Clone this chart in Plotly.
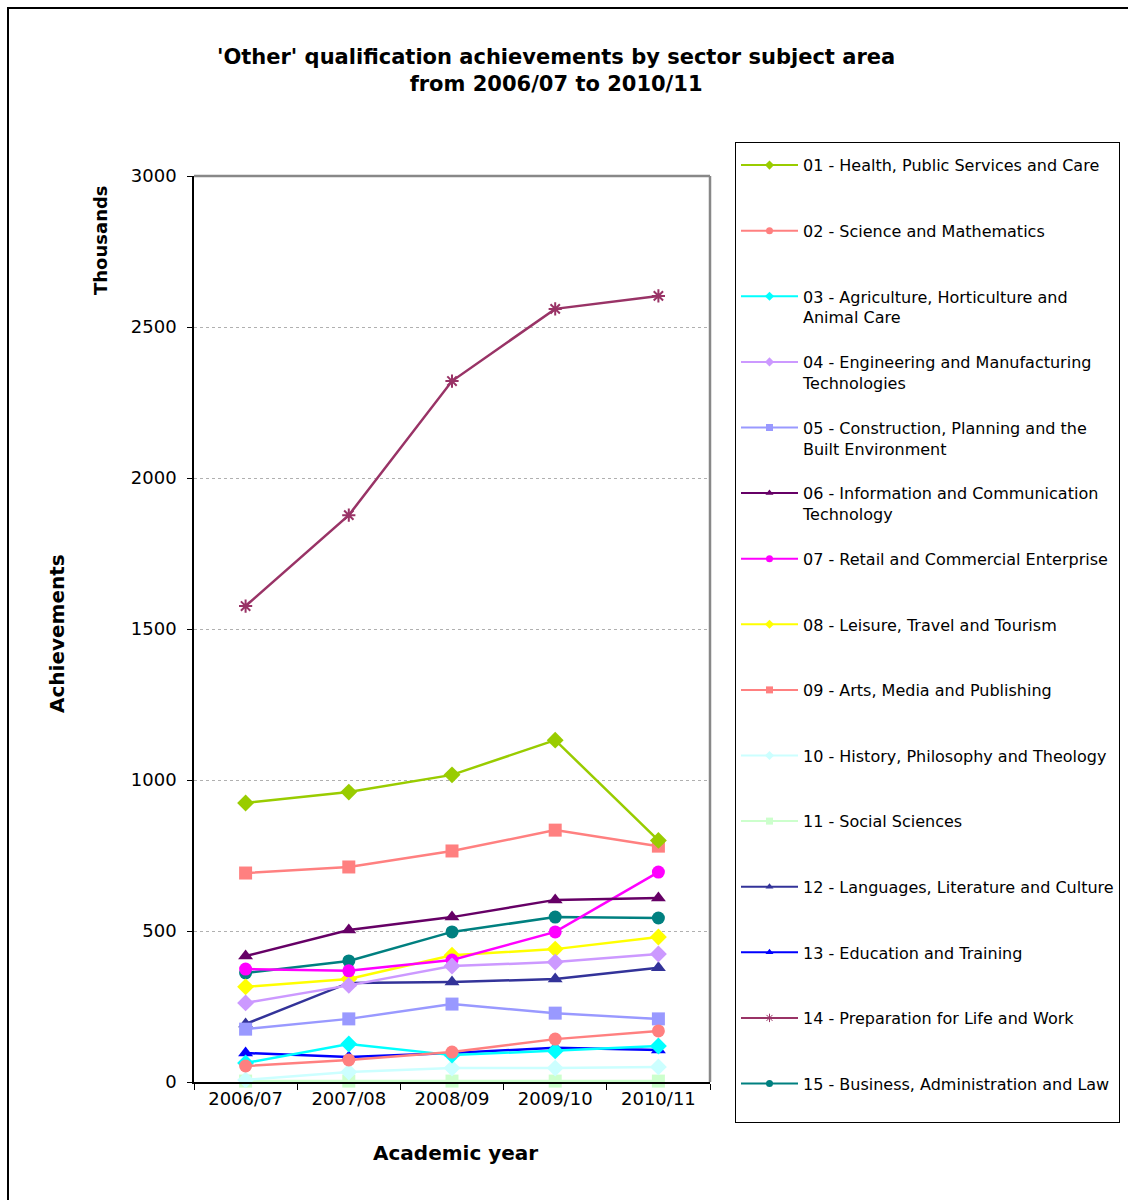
import plotly.graph_objects as go

# Academic years on the category axis
years = ["2006/07", "2007/08", "2008/09", "2009/10", "2010/11"]

# Achievements (thousands) by sector subject area
health = [924, 960, 1017, 1132, 800]
science = [53, 73, 99, 142, 169]
agriculture = [63, 126, 89, 103, 119]
engineering = [262, 320, 384, 397, 424]
construction = [175, 209, 258, 228, 209]
ict = [417, 503, 546, 603, 609]
retail = [374, 368, 404, 497, 695]
leisure = [315, 341, 420, 440, 480]
arts = [692, 712, 765, 834, 781]
history = [7, 33, 46, 46, 50]
social = [3, 3, 3, 3, 3]
languages = [192, 328, 331, 341, 378]
education = [96, 83, 96, 113, 106]
preparation = [1576, 1877, 2321, 2560, 2603]
business = [361, 401, 497, 546, 543]

y_ticks = [0, 500, 1000, 1500, 2000, 2500, 3000]

series = [
    ("01 - Health, Public Services and Care", health, "#99CC00", "diamond"),
    ("02 - Science and Mathematics", science, "#FF8080", "circle"),
    ("03 - Agriculture, Horticulture and<br>Animal Care", agriculture, "#00FFFF", "diamond"),
    ("04 - Engineering and Manufacturing<br>Technologies", engineering, "#CC99FF", "diamond"),
    ("05 - Construction, Planning and the<br>Built Environment", construction, "#9999FF", "square"),
    ("06 - Information and Communication<br>Technology", ict, "#660066", "triangle-up"),
    ("07 - Retail and Commercial Enterprise", retail, "#FF00FF", "circle"),
    ("08 - Leisure, Travel and Tourism", leisure, "#FFFF00", "diamond"),
    ("09 - Arts, Media and Publishing", arts, "#FF8080", "square"),
    ("10 - History, Philosophy and Theology", history, "#CCFFFF", "diamond"),
    ("11 - Social Sciences", social, "#CCFFCC", "square"),
    ("12 - Languages, Literature and Culture", languages, "#333399", "triangle-up"),
    ("13 - Education and Training", education, "#0000FF", "triangle-up"),
    ("14 - Preparation for Life and Work", preparation, "#993366", "asterisk-open"),
    ("15 - Business, Administration and Law", business, "#008080", "circle"),
]

FONT = "DejaVu Sans, Verdana, sans-serif"

fig = go.Figure()

# Lines with large markers on the chart (drawn in reverse so 01 sits on top)
for i, (name, vals, color, sym) in reversed(list(enumerate(series))):
    msize = 13 if sym != "asterisk-open" else 11
    fig.add_trace(go.Scatter(
        x=years, y=vals, mode="lines+markers", name=name,
        legendgroup=f"g{i}", showlegend=False, cliponaxis=False,
        line=dict(color=color, width=2.5),
        marker=dict(symbol=sym, size=msize, color=color,
                    line=dict(color=color, width=2 if sym == "asterisk-open" else 0)),
    ))

# Legend entries with small markers
for i, (name, vals, color, sym) in enumerate(series):
    label = name if "<br>" in name else name + "<br>\u00a0"
    fig.add_trace(go.Scatter(
        x=[None], y=[None], mode="lines+markers", name=label,
        legendgroup=f"g{i}", showlegend=True,
        line=dict(color=color, width=2),
        marker=dict(symbol=sym, size=7, color=color,
                    line=dict(color=color, width=1 if sym == "asterisk-open" else 0)),
    ))

L, R, T, B = 194, 710, 176, 1082
W, H = 1128, 1200


def px(xp):
    return (xp - L) / (R - L)


def py(yp):
    return (B - yp) / (B - T)


fig.update_layout(
    width=W, height=H,
    margin=dict(l=L, r=W - R, t=T, b=H - B, pad=0, autoexpand=False),
    paper_bgcolor="white", plot_bgcolor="white",
    font=dict(family=FONT, size=16, color="black"),
    showlegend=True,
    legend=dict(
        x=px(735), y=py(142), xanchor="left", yanchor="top",
        bordercolor="black", borderwidth=1, bgcolor="white",
        font=dict(family=FONT, size=16, color="black"),
        title=dict(text="\u00a0", font=dict(size=4)),
        valign="top", tracegroupgap=21, itemwidth=57,
        traceorder="grouped", maxheight=1150,
    ),
    xaxis=dict(
        type="category", range=[-0.5, 4.5],
        showline=True, linecolor="black", linewidth=1.5,
        ticks="outside", ticklen=6, tickcolor="black", tickson="boundaries",
        showgrid=False, zeroline=False,
        tickfont=dict(family=FONT, size=18, color="black"),
    ),
    yaxis=dict(
        range=[0, 3000], tickvals=y_ticks,
        showline=True, linecolor="black", linewidth=1.5,
        ticks="outside", ticklen=5, tickcolor="black",
        showgrid=True, gridcolor="#b0b0b0", griddash="dot", gridwidth=1,
        zeroline=False, ticklabelstandoff=7,
        tickfont=dict(family=FONT, size=18, color="black"),
    ),
    shapes=[
        # grey frame on top and right of plot area
        dict(type="line", xref="paper", yref="paper", x0=0, x1=1, y0=1, y1=1,
             line=dict(color="#888888", width=2.5)),
        dict(type="line", xref="paper", yref="paper", x0=1, x1=1, y0=0, y1=1,
             line=dict(color="#888888", width=2.5)),
        # outer chart border
        dict(type="rect", xref="paper", yref="paper",
             x0=px(8), x1=px(1140), y0=py(1210), y1=py(8),
             line=dict(color="black", width=2), layer="below"),
    ],
    annotations=[
        dict(text="<b>'Other' qualification achievements by sector subject area<br>from 2006/07 to 2010/11</b>",
             xref="paper", yref="paper", x=px(556), y=py(71),
             xanchor="center", yanchor="middle", showarrow=False,
             font=dict(family=FONT, size=21, color="black")),
        dict(text="<b>Achievements</b>", xref="paper", yref="paper",
             x=px(57), y=py(634), textangle=-90, showarrow=False,
             xanchor="center", yanchor="middle",
             font=dict(family=FONT, size=20, color="black")),
        dict(text="<b>Thousands</b>", xref="paper", yref="paper",
             x=px(100), y=py(240), textangle=-90, showarrow=False,
             xanchor="center", yanchor="middle",
             font=dict(family=FONT, size=18, color="black")),
        dict(text="<b>Academic year</b>", xref="paper", yref="paper",
             x=px(455), y=py(1153), showarrow=False,
             xanchor="center", yanchor="middle",
             font=dict(family=FONT, size=20, color="black")),
    ],
)

fig.write_html("out.html")
